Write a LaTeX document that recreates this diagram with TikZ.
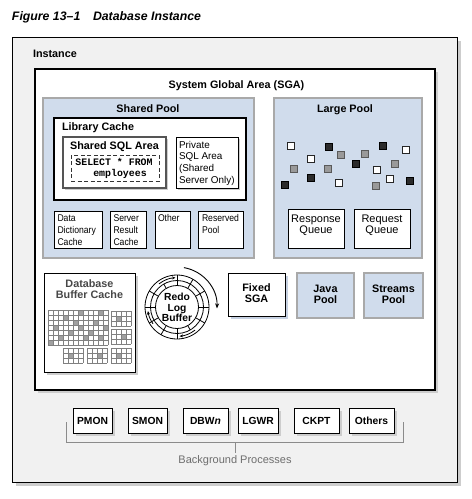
\documentclass[tikz,border=0pt]{standalone}
\usepackage{fontspec}
\setmainfont{Liberation Sans}
\newfontfamily\monobf{Liberation Mono}
\newfontfamily\narrowsans[FakeStretch=0.88]{Liberation Sans}
\usetikzlibrary{shadows,arrows.meta}
\definecolor{instfill}{HTML}{F1F1F1}
\definecolor{shadowgray}{HTML}{CDCDCD}
\definecolor{poolblue}{HTML}{D0DCEC}
\definecolor{poolborder}{HTML}{A9A9A9}
\definecolor{blueshadow}{HTML}{C6D1E2}
\definecolor{txtgray}{HTML}{474747}
\definecolor{bggray}{HTML}{6E6E6E}
\definecolor{sqgray}{HTML}{999999}
\definecolor{sqblack}{HTML}{2B2B2B}
\definecolor{cellgray}{HTML}{A0A0A0}
\definecolor{gridgray}{HTML}{808080}
\definecolor{sqlborder}{HTML}{555555}
\newcommand\myfs[2]{\fontsize{#1}{#2}\selectfont}
\newcommand\mysmallgrid[4]{%
  \fill[cellgray] ({#1+5*#3},{#2+5*#4}) rectangle ++(5,5);
  \foreach \i in {0,...,4} \draw[gl] ({#1+5*\i},#2) -- ++(0,15);
  \foreach \j in {0,...,3} \draw[gl] (#1,{#2+5*\j}) -- ++(20,0);}
\begin{document}
\begin{tikzpicture}[x=1pt,y=-1pt,
  every node/.style={inner sep=0pt,outer sep=0pt},
  sz/.style 2 args={minimum width=#1pt, minimum height=#2pt},
  shd/.style={general shadow={fill=#1, shadow xshift=3pt, shadow yshift=-3pt}},
  wbox/.style={draw=black, fill=white, line width=0.9pt},
  pool/.style={draw=poolborder, fill=poolblue, line width=2pt},
  hdr/.style={font=\bfseries\myfs{10.8}{11}},
  smalltxt/.style={font=\narrowsans\myfs{9.8}{12}, align=left, anchor=north west},
  qtxt/.style={font=\myfs{11}{11}, align=center},
  proc/.style={wbox, minimum height=25pt, shd=shadowgray, font=\bfseries\myfs{10.3}{12}},
  sqw/.style={draw=black!85, fill=white, line width=0.7pt, minimum size=6.5pt, general shadow={fill=black!25, shadow xshift=0.8pt, shadow yshift=-0.8pt}},
  sqg/.style={sqw, fill=sqgray, draw=black!65},
  sqb/.style={sqw, fill=sqblack, draw=black},
  gl/.style={draw=gridgray, line width=0.5pt},
  ringline/.style={line width=0.8pt},
  brk/.style={draw=bggray!80, line width=0.9pt}
]
\useasboundingbox (0,0) rectangle (472,499);

% title
\node[anchor=base west, font=\bfseries\itshape\myfs{12.3}{14}] (fig) at (12,20) {Figure 13–1};
\node[anchor=base west, font=\bfseries\itshape\myfs{12.3}{14}] (figtitle) at (93,20) {Database Instance};

% instance
\node[draw=black, fill=instfill, line width=1pt, sz={445}{445},
  general shadow={fill=shadowgray, shadow xshift=4pt, shadow yshift=-4pt}] (inst) at (234.5,259.5) {};
\node[hdr, anchor=base west] (instlbl) at (33,57.5) {Instance};

% SGA
\node[wbox, line width=1.1pt, sz={400}{321}, shd=shadowgray] (sga) at (235,229.5) {};
\node[hdr, anchor=base] (sgalbl) at (236.5,88) {System Global Area (SGA)};

% shared pool
\node[pool, sz={211}{160}] (sp) at (148.5,178) {};
\node[hdr, anchor=base] (splbl) at (148,112) {Shared Pool};

% library cache
\node[wbox, line width=1.1pt, sz={192}{82}] (lc) at (150,159) {};
\node[hdr, anchor=base west] (lclbl) at (62,130) {Library Cache};

\node[draw=sqlborder, fill=white, line width=1.4pt, sz={103}{51},
  general shadow={fill=shadowgray, shadow xshift=2pt, shadow yshift=-2pt}] (ssql) at (114.5,162.5) {};
\node[hdr, anchor=base] (ssqllbl) at (114.5,149) {Shared SQL Area};
\node[draw=black!80, dash pattern=on 4pt off 2.5pt, line width=0.8pt, sz={88}{26}] (sel) at (115,168) {};
\node[anchor=base, font=\monobf\bfseries\myfs{9.9}{11}] (sel1) at (114,165) {SELECT * FROM};
\node[anchor=base, font=\monobf\bfseries\myfs{9.9}{11}] (sel2) at (120,176) {employees};

\node[wbox, sz={62}{51}, general shadow={fill=shadowgray, shadow xshift=2pt, shadow yshift=-2pt}] (priv) at (207,162.5) {};
\node[anchor=north west, align=left, font=\myfs{9.9}{11.7}] (privtxt) at (179,141) {Private\\SQL Area\\(Shared\\Server Only)};

% small boxes
\node[wbox, sz={48}{37}] (ddc) at (78,229.5) {};
\node[wbox, sz={36}{37}] (src) at (128,229.5) {};
\node[wbox, sz={35}{37}] (oth) at (172.5,229.5) {};
\node[wbox, sz={45}{37}] (res) at (220.5,229.5) {};
\node[smalltxt] (ddctxt) at (57.5,214.5) {Data\\Dictionary\\Cache};
\node[smalltxt] (srctxt) at (113.5,214.5) {Server\\Result\\Cache};
\node[smalltxt] (othtxt) at (158,214.5) {Other};
\node[smalltxt] (restxt) at (202,214.5) {Reserved\\Pool};

% large pool
\node[pool, sz={148}{160}] (lp) at (348,178) {};
\node[hdr, anchor=base] (lplbl) at (345,112) {Large Pool};
\foreach \x/\y [count=\k] in {291/146,311/159,406/150,377/170,339/183,390/179}
  \node[sqw] (w\k) at (\x,\y) {};
\foreach \x/\y [count=\k] in {341/155,365/154,294/169,328/169,395/164,376/186}
  \node[sqg] (g\k) at (\x,\y) {};
\foreach \x/\y [count=\k] in {329/147,383/146,356/164,311/178,285/185,410/181}
  \node[sqb] (b\k) at (\x,\y) {};
\node[wbox, sz={56}{39}] (respq) at (316,228.5) {};
\node[wbox, sz={56}{39}] (reqq) at (382,228.5) {};
\node[qtxt] (resptxt) at (316,225) {Response\\Queue};
\node[qtxt] (reqtxt) at (382,225) {Request\\Queue};

% database buffer cache
\node[wbox, sz={91}{99}, shd=shadowgray] (dbc) at (89.5,322.5) {};
\node[hdr, text=txtgray, align=center] (dbctxt) at (89.5,289.5) {Database\\Buffer Cache};
\foreach \c/\r in {3/1,5/2,6/3,9/2,11/3,2/5,7/5,4/4,10/5,8/4,1/3,10/0,0/6,6/0}
  \fill[cellgray] ({48+5*\c},{310+5*\r}) rectangle ++(5,5);
\foreach \i in {0,...,12} \draw[gl] ({48+5*\i},310) -- ++(0,35);
\foreach \j in {0,...,7} \draw[gl] (48,{310+5*\j}) -- ++(60,0);
\mysmallgrid{111}{311}{1}{1}
\mysmallgrid{111}{329}{2}{1}
\mysmallgrid{63}{348}{1}{1}
\mysmallgrid{87}{348}{2}{1}
\mysmallgrid{111}{348}{1}{1}

% redo log buffer
\coordinate (rc) at (177,307);
\fill[white] (rc) circle[radius=32];
\draw[ringline] (rc) circle[radius=32];
\draw[ringline] (rc) circle[radius=26.5];
\draw[ringline] (rc) circle[radius=21.5];
\foreach \a in {0,30,...,330} \draw[ringline, shift={(rc)}] (\a:21.5) -- (\a:26.5);
\foreach \a in {0,30,90,120,150,180,210,270,300,330} \draw[ringline, shift={(rc)}] (\a:26.5) -- (\a:32);
\draw[ringline, shift={(rc)}, -{Stealth[length=3.5pt,width=3pt]}] (232:29.3) arc[start angle=232, end angle=267, radius=29.3];
\draw[ringline, shift={(rc)}, -{Stealth[length=3.5pt,width=3pt]}] (52:29.3) arc[start angle=52, end angle=85, radius=29.3];
\draw[ringline, shift={(rc)}, -{Stealth[length=3.5pt,width=3pt]}] (145:29.3) arc[start angle=145, end angle=172, radius=29.3];
\draw[line width=0.9pt, shift={(rc)}, -{Stealth[length=5pt,width=4pt]}] (280:40) arc[start angle=280, end angle=362, radius=40];
\node[align=center, font=\bfseries\myfs{10.3}{10.3}] (redo) at (177,307.5) {Redo\\Log\\Buffer};

% fixed SGA, java, streams
\node[wbox, sz={57}{43}, shd=blueshadow] (fsga) at (256.5,294.5) {};
\node[hdr, align=center] (fsgatxt) at (256.5,293) {Fixed\\SGA};
\node[pool, sz={57}{45}] (java) at (325.5,295.5) {};
\node[hdr, align=center] (javatxt) at (325.5,294.5) {Java\\Pool};
\node[pool, sz={59}{45}] (streams) at (393.5,295.5) {};
\node[hdr, align=center] (streamstxt) at (393.5,294.5) {Streams\\Pool};

% background processes
\node[proc, minimum width=39pt] (pmon) at (92.5,420.5) {PMON};
\node[proc, minimum width=39pt] (smon) at (147.5,420.5) {SMON};
\node[proc, minimum width=45pt] (dbwn) at (205.5,420.5) {DBW\textit{n}};
\node[proc, minimum width=40pt] (lgwr) at (258,420.5) {LGWR};
\node[proc, minimum width=45pt] (ckpt) at (316.5,420.5) {CKPT};
\node[proc, minimum width=45pt] (others) at (371.5,420.5) {Others};

\coordinate (bl) at (66,422);
\coordinate (blb) at (66,442);
\coordinate (brb) at (403,442);
\coordinate (br) at (403,422);
\coordinate (bm) at (235,442);
\coordinate (bmb) at (235,453);
\draw[brk] (bl) -- (blb) -- (brb) -- (br);
\draw[brk] (bm) -- (bmb);
\node[anchor=base, font=\myfs{11}{13}, text=bggray] (bgp) at (235,463.5) {Background Processes};
\end{tikzpicture}
\end{document}
